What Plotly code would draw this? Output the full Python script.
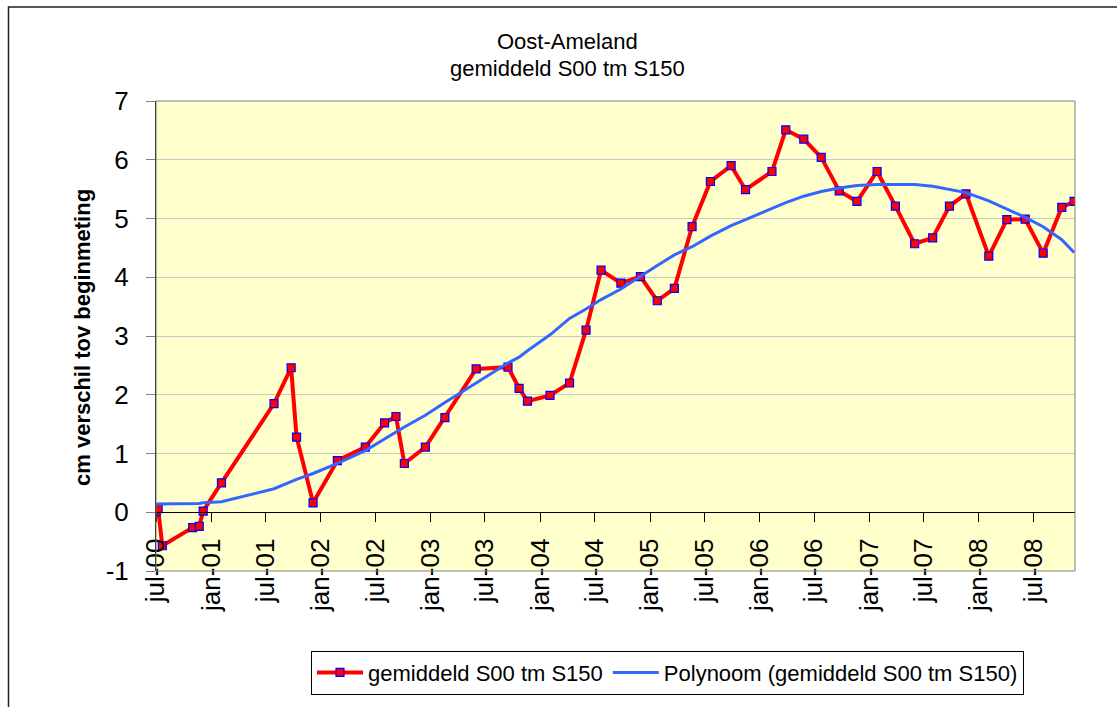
import plotly.graph_objects as go

# ---- data ----
dates = [
    "2000-07-01", "2000-07-08", "2000-07-22", "2000-10-31", "2000-11-22", "2000-12-05",
    "2001-02-04", "2001-07-29", "2001-09-24", "2001-10-12", "2001-12-06",
    "2002-02-25", "2002-05-29", "2002-08-01", "2002-09-08", "2002-10-06", "2002-12-15",
    "2003-02-18", "2003-06-02", "2003-09-16", "2003-10-23", "2003-11-20",
    "2004-02-03", "2004-04-08", "2004-06-02", "2004-07-22", "2004-09-26", "2004-11-30",
    "2005-01-25", "2005-03-23", "2005-05-21", "2005-07-21", "2005-09-28", "2005-11-15",
    "2006-02-11", "2006-03-29", "2006-05-28", "2006-07-25", "2006-09-23", "2006-11-21",
    "2007-01-27", "2007-03-29", "2007-06-01", "2007-07-31", "2007-09-25", "2007-11-19",
    "2008-02-03", "2008-04-03", "2008-06-03", "2008-08-02", "2008-10-03", "2008-11-13",
]
gemiddeld = [
    0.01, 0.06, -0.57, -0.26, -0.24, 0.02,
    0.50, 1.85, 2.46, 1.28, 0.16,
    0.88, 1.11, 1.52, 1.63, 0.83, 1.11,
    1.61, 2.44, 2.47, 2.11, 1.89,
    1.99, 2.20, 3.10, 4.12, 3.90, 4.01,
    3.60, 3.81, 4.86, 5.63, 5.90, 5.49,
    5.80, 6.51, 6.35, 6.04, 5.47, 5.29,
    5.80, 5.21, 4.57, 4.67, 5.21, 5.42,
    4.36, 4.98, 4.99, 4.41, 5.19, 5.29,
]
polynoom = [
    0.14, 0.14, 0.14, 0.14, 0.15, 0.16,
    0.18, 0.40, 0.52, 0.56, 0.66,
    0.83, 1.05, 1.25, 1.37, 1.45, 1.65,
    1.87, 2.20, 2.54, 2.64, 2.75,
    3.02, 3.30, 3.46, 3.62, 3.80, 4.02,
    4.20, 4.38, 4.52, 4.70, 4.88, 4.98,
    5.17, 5.27, 5.38, 5.46, 5.52, 5.56,
    5.58, 5.58, 5.58, 5.55, 5.50, 5.44,
    5.30, 5.16, 5.02, 4.86, 4.64, 4.42,
]
tick_dates = [
    "2000-07-01", "2001-01-01", "2001-07-01", "2002-01-01", "2002-07-01",
    "2003-01-01", "2003-07-01", "2004-01-01", "2004-07-01", "2005-01-01",
    "2005-07-01", "2006-01-01", "2006-07-01", "2007-01-01", "2007-07-01",
    "2008-01-01", "2008-07-01",
]
tick_labels = [
    "jul-00", "jan-01", "jul-01", "jan-02", "jul-02", "jan-03", "jul-03",
    "jan-04", "jul-04", "jan-05", "jul-05", "jan-06", "jul-06", "jan-07",
    "jul-07", "jan-08", "jul-08",
]
y_ticks = [-1, 0, 1, 2, 3, 4, 5, 6, 7]
y_tick_labels = ["-1", "0", "1", "2", "3", "4", "5", "6", "7"]

title_lines = ["Oost-Ameland", "gemiddeld S00 tm S150"]
y_title = "cm verschil tov beginmeting"
series_name = "gemiddeld S00 tm S150"
trend_name = "Polynoom (gemiddeld S00 tm S150)"

FONT = "Liberation Sans, Arial, sans-serif"

# ---- geometry (pixels) ----
W, H = 1117, 707
L, R, T, B = 156, 1075, 101, 573
pw, ph = R - L, B - T

def px(x):
    return (x - L) / pw

def py(y):
    return (B - y) / ph

fig = go.Figure()
fig.add_trace(go.Scatter(
    x=dates, y=gemiddeld, name=series_name, mode="lines+markers",
    line=dict(color="#FF0000", width=4),
    marker=dict(symbol="square", size=8, color="#FF0000",
                line=dict(color="#0000FF", width=1.2)),
))
fig.add_trace(go.Scatter(
    x=dates, y=polynoom, name=trend_name, mode="lines",
    line=dict(color="#3366FF", width=3),
))

ymin, ymax = -1, 7
fig.update_layout(
    width=W, height=H,
    margin=dict(l=L, r=W - R, t=T, b=H - B, pad=0),
    paper_bgcolor="white",
    plot_bgcolor="#FFFFCC",
    font=dict(family=FONT, color="black"),
    showlegend=True,
    legend=dict(
        orientation="h", x=px(311), y=py(653), xanchor="left", yanchor="top",
        bordercolor="black", borderwidth=1, bgcolor="white",
        font=dict(size=22, family=FONT), itemwidth=46,
    ),
    xaxis=dict(
        type="date", range=["2000-07-01", "2008-11-16"],
        anchor="free", position=(0 - ymin) / (ymax - ymin),
        tickmode="array", tickvals=tick_dates, ticktext=tick_labels,
        tickangle=-90, tickfont=dict(size=26, family=FONT),
        ticks="outside", ticklen=9, tickcolor="black", tickwidth=1,
        showline=True, linecolor="black", linewidth=1,
        showgrid=False, zeroline=False, ticklabelstandoff=6,
    ),
    yaxis=dict(
        range=[ymin, ymax], tickmode="array", tickvals=y_ticks, ticktext=y_tick_labels,
        tickfont=dict(size=26, family=FONT),
        ticks="outside", ticklen=9, tickcolor="#808080", tickwidth=1,
        showline=True, linecolor="black", linewidth=1,
        showgrid=True, gridcolor="#C8C8C8", gridwidth=1,
        zeroline=False, ticklabelstandoff=12,
    ),
    annotations=[
        dict(text=title_lines[0], x=px(567), y=py(41), xref="paper", yref="paper",
             showarrow=False, xanchor="center", yanchor="middle",
             font=dict(size=22, family=FONT)),
        dict(text=title_lines[1], x=px(567), y=py(68), xref="paper", yref="paper",
             showarrow=False, xanchor="center", yanchor="middle",
             font=dict(size=22, family=FONT)),
        dict(text="<b>" + y_title + "</b>", x=px(83), y=py(339), xref="paper", yref="paper",
             showarrow=False, xanchor="center", yanchor="middle", textangle=-90,
             font=dict(size=22, family=FONT)),
    ],
    shapes=[
        # plot-area border
        dict(type="rect", xref="paper", yref="paper", x0=0, x1=1, y0=0, y1=1,
             line=dict(color="#808080", width=1), layer="above"),
        # outer chart border (left and top edges visible)
        dict(type="path", xref="paper", yref="paper",
             path=f"M {px(8.5)} {py(720)} L {px(8.5)} {py(6.5)} L {px(1130)} {py(6.5)}",
             line=dict(color="#202020", width=1.5)),
    ],
)

fig.write_html(
    "out.html",
    config={"displayModeBar": False},
    post_script="document.body.style.margin='0';document.body.style.overflow='hidden';",
)
